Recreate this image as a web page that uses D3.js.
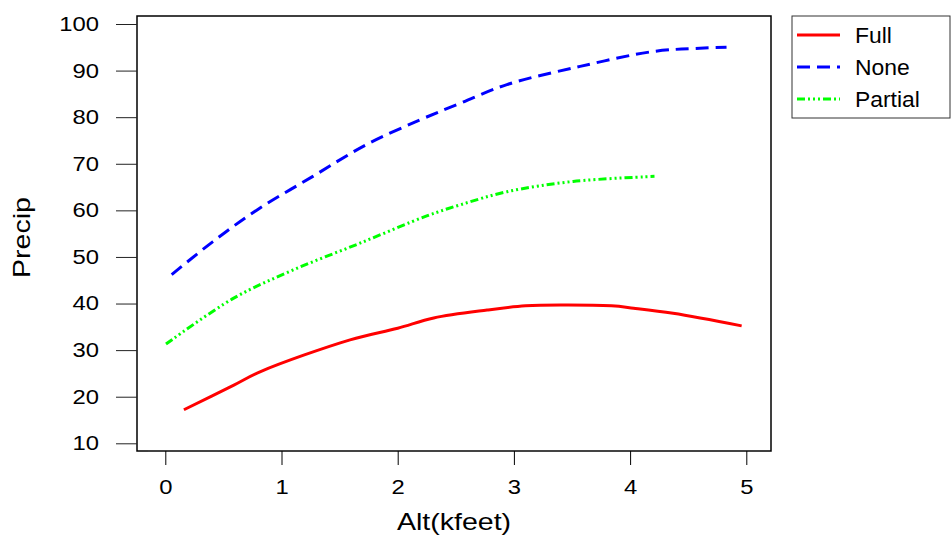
<!DOCTYPE html>
<html>
<head>
<meta charset="utf-8">
<script src="https://cdn.jsdelivr.net/npm/d3@7"></script>
<style>
  body { margin: 0; background: #fff; }
  svg { display: block; font-family: Arial, "Liberation Sans", sans-serif; }
</style>
</head>
<body>
<div id="graphic"></div>
<script>
const width = 951;
const height = 538;

// frame of the plot area (pixels)
const frame = { left: 137, right: 771, top: 16, bottom: 451 };
const stretch = 1.19; // the original font is wider than Liberation Sans

// data
const fullAlt = [0.16, 0.59, 0.82, 1.59, 2.0, 2.31, 2.77, 3.10, 3.40, 3.84, 4.03, 4.37, 4.96];
const fullPrecip = [17.2, 22.5, 25.4, 32.2, 34.7, 36.9, 38.6, 39.5, 39.7, 39.5, 39.0, 37.9, 35.2];

const noneAlt = [0.055, 0.41, 0.79, 1.27, 1.73, 2.19, 2.54, 2.94, 3.57, 4.2, 4.6, 4.83];
const nonePrecip = [46.2, 53.3, 60.1, 67.3, 74.1, 79.4, 83.0, 87.0, 90.9, 94.1, 94.8, 95.0];

const partialAlt = [0.006, 0.585, 1.10, 1.68, 2.25, 2.54, 2.94, 3.51, 4.21];
const partialPrecip = [31.3, 41.1, 47.2, 53.0, 58.8, 61.2, 64.0, 66.2, 67.3];

const xTicks = [0, 1, 2, 3, 4, 5];
const yTicks = [10, 20, 30, 40, 50, 60, 70, 80, 90, 100];

const seriesNames = ["Full", "None", "Partial"];
const seriesColors = ["#ff0000", "#0000ff", "#00ff00"];
const seriesDash = [null, "13,7", "8,3,2,3,2,3,2,3"];

const series = [
  { alt: fullAlt, precip: fullPrecip },
  { alt: noneAlt, precip: nonePrecip },
  { alt: partialAlt, precip: partialPrecip }
];

const root = d3.select("#graphic");
const svg = root.append("svg")
  .attr("width", width)
  .attr("height", height);

const x = d3.scaleLinear().domain([0, 5]).range([165.3, 746.3]);
const y = d3.scaleLinear().domain([10, 100]).range([443.3, 24]);

// frame
svg.append("rect")
  .attr("x", frame.left)
  .attr("y", frame.top)
  .attr("width", frame.right - frame.left)
  .attr("height", frame.bottom - frame.top)
  .attr("fill", "none")
  .attr("stroke", "#000")
  .attr("stroke-width", 1.5);

// bottom axis
const gx = svg.append("g").attr("transform", `translate(0,${frame.bottom})`);
gx.call(d3.axisBottom(x).tickValues(xTicks).tickFormat(d3.format("d")).tickSize(14).tickPadding(15).tickSizeOuter(0));
gx.select(".domain").attr("d", `M${x(-0.15)},0H${x(5.12)}`).attr("stroke", "#444").attr("stroke-width", 2);
gx.selectAll(".tick line").attr("stroke", "#000");
gx.selectAll(".tick text")
  .attr("font-size", 20)
  .attr("fill", "#000")
  .attr("font-family", "Arial, 'Liberation Sans', sans-serif")
  .attr("transform", `scale(${stretch},1)`);

// left axis
const gy = svg.append("g").attr("transform", `translate(${frame.left},0)`);
gy.call(d3.axisLeft(y).tickValues(yTicks).tickSize(21).tickPadding(17).tickSizeOuter(0));
gy.select(".domain").remove();
gy.selectAll(".tick line").attr("stroke", "#222");
gy.selectAll(".tick text")
  .attr("font-size", 20)
  .attr("fill", "#000")
  .attr("font-family", "Arial, 'Liberation Sans', sans-serif")
  .attr("x", -38 / stretch)
  .attr("transform", `scale(${stretch},1)`);

// axis titles
svg.append("g")
  .attr("transform", `translate(${(frame.left + frame.right) / 2},530)`)
  .append("text")
  .attr("text-anchor", "middle")
  .attr("font-size", 24)
  .attr("transform", `scale(${stretch},1)`)
  .text("Alt(kfeet)");

svg.append("g")
  .attr("transform", `translate(30,${(frame.top + frame.bottom) / 2 + 4}) rotate(-90)`)
  .append("text")
  .attr("text-anchor", "middle")
  .attr("font-size", 24)
  .attr("transform", `scale(${stretch},1)`)
  .text("Precip");

// lines
const line = d3.line()
  .x(d => x(d[0]))
  .y(d => y(d[1]))
  .curve(d3.curveCatmullRom.alpha(0.5));

series.forEach((s, i) => {
  const pts = s.alt.map((a, j) => [a, s.precip[j]]);
  svg.append("path")
    .datum(pts)
    .attr("fill", "none")
    .attr("stroke", seriesColors[i])
    .attr("stroke-width", 3)
    .attr("stroke-dasharray", seriesDash[i])
    .attr("d", line);
});

// legend
const lg = svg.append("g").attr("transform", "translate(792,16)");
lg.append("rect")
  .attr("width", 158)
  .attr("height", 102)
  .attr("fill", "#fff")
  .attr("stroke", "#333")
  .attr("stroke-width", 1);

seriesNames.forEach((name, i) => {
  const cy = 19 + i * 32;
  lg.append("line")
    .attr("x1", 5).attr("x2", 48)
    .attr("y1", cy).attr("y2", cy)
    .attr("stroke", seriesColors[i])
    .attr("stroke-width", 3)
    .attr("stroke-dasharray", seriesDash[i]);
  lg.append("g")
    .attr("transform", `translate(63,${cy + 8})`)
    .append("text")
    .attr("font-size", 22)
    .attr("transform", "scale(1.04,1)")
    .text(name);
});
</script>
</body>
</html>
